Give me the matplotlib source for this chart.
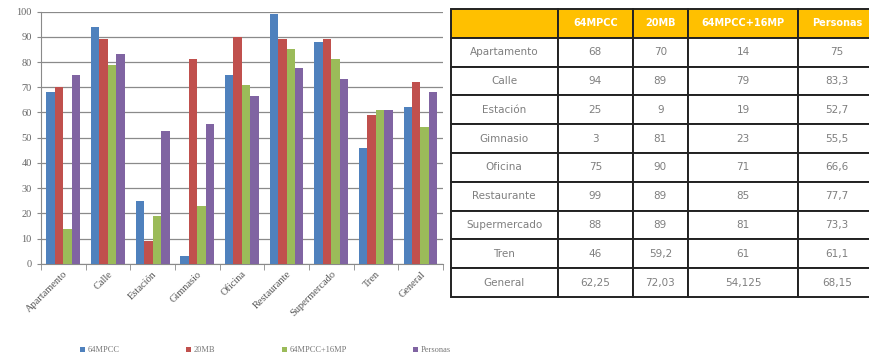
import numpy as np
import matplotlib
matplotlib.use("Agg")
import matplotlib.pyplot as plt

# scores per location for each recognition setup
lugares = ["Apartamento", "Calle", "Estación", "Gimnasio", "Oficina",
           "Restaurante", "Supermercado", "Tren", "General"]
series = ["64MPCC", "20MB", "64MPCC+16MP", "Personas"]
mpcc64 = [68, 94, 25, 3, 75, 99, 88, 46, 62.25]
mb20 = [70, 89, 9, 81, 90, 89, 89, 59.2, 72.03]
mpcc_mp = [14, 79, 19, 23, 71, 85, 81, 61, 54.125]
personas = [75, 83.3, 52.7, 55.5, 66.6, 77.7, 73.3, 61.1, 68.15]

colores = ["#4F81BD", "#C0504D", "#9BBB59", "#8064A2"]
gris = "#7f7f7f"

fig = plt.figure(figsize=(8.7, 3.61), dpi=100)

# --- bar chart ---
ax = fig.add_axes([0.047, 0.269, 0.462, 0.699])
x = np.arange(len(lugares))
w = 0.19
for i, (vals, c, lab) in enumerate(zip([mpcc64, mb20, mpcc_mp, personas], colores, series)):
    ax.bar(x + (i - 1.5) * w, vals, width=w, color=c, label=lab, zorder=3)

ax.set_xlim(-0.5, len(lugares) - 0.5)
ax.set_ylim(0, 100)
ax.set_yticks(range(0, 101, 10))
ax.yaxis.grid(True, color="#8a8a8a", lw=0.9, zorder=0)
for s in ["top", "right"]:
    ax.spines[s].set_visible(False)
ax.spines["left"].set_color("#8a8a8a")
ax.spines["bottom"].set_color("#8a8a8a")
ax.tick_params(axis="y", length=3, color="#8a8a8a", labelsize=7.5, labelcolor="#666666")
ax.set_xticks(x)
ax.set_xticklabels(lugares, rotation=45, ha="right", rotation_mode="anchor",
                   fontsize=7.5, color="#555555", family="Liberation Serif")
for t in ax.get_yticklabels():
    t.set_family("Liberation Serif")
ax.tick_params(axis="x", length=0, pad=4)
ax.set_xticks(np.arange(-0.5, len(lugares)), minor=True)
ax.tick_params(axis="x", which="minor", length=4, color="#8a8a8a")

fig.legend(loc="center", bbox_to_anchor=(0.305, 0.03), ncol=4, frameon=False,
           handlelength=0.6, handleheight=0.6, handletextpad=0.3,
           columnspacing=8, labelcolor="#777777",
           prop={"family": "Liberation Serif", "size": 6})

# --- table ---
tax = fig.add_axes([0.518, 0.177, 0.489, 0.798])
tax.axis("off")

def fmt(v):
    return str(v).replace(".", ",")

celdas = [[""] + series]
for j, lug in enumerate(lugares):
    celdas.append([lug] + [fmt(s[j]) for s in [mpcc64, mb20, mpcc_mp, personas]])

anchos = [107, 75, 55, 110, 78]
anchos = [a / sum(anchos) for a in anchos]
tb = tax.table(cellText=celdas, colWidths=anchos, bbox=[0, 0, 1, 1], cellLoc="center")
tb.auto_set_font_size(False)
for (r, c), cell in tb.get_celld().items():
    cell.set_linewidth(1.4)
    cell.set_edgecolor("#222222")
    cell.get_text().set_fontsize(7.5)
    if r == 0:
        cell.set_facecolor("#FFC000")
        cell.get_text().set_color("white")
        cell.get_text().set_fontweight("bold")
        cell.get_text().set_fontsize(7)
    else:
        cell.set_facecolor("white")
        cell.get_text().set_color(gris)

fig.savefig("out.png", dpi=100)
